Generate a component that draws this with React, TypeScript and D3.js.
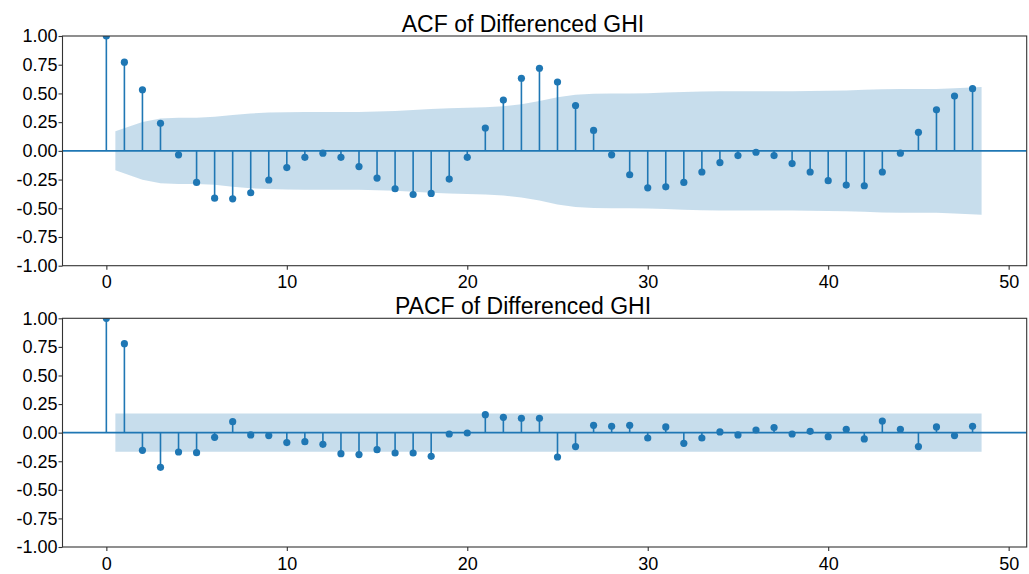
import React, { useEffect, useRef } from 'react'
import * as d3 from 'd3'

// autocorrelation at lags 0..48
const acfValues = [
  1.0, 0.772, 0.532, 0.24, -0.035, -0.275, -0.412, -0.418, -0.365, -0.254,
  -0.146, -0.056, -0.02, -0.056, -0.137, -0.237, -0.33, -0.38, -0.371, -0.246,
  -0.056, 0.199, 0.442, 0.632, 0.719, 0.599, 0.395, 0.178, -0.035, -0.208,
  -0.322, -0.313, -0.275, -0.184, -0.102, -0.041, -0.012, -0.041, -0.111, -0.184,
  -0.26, -0.298, -0.304, -0.184, -0.02, 0.161, 0.357, 0.477, 0.541
]

// half width of the confidence band, lags 1..48
const acfConf = [
  0.17, 0.252, 0.282, 0.288, 0.288, 0.296, 0.312, 0.326, 0.333, 0.337,
  0.339, 0.339, 0.339, 0.339, 0.342, 0.348, 0.356, 0.365, 0.372, 0.376,
  0.38, 0.388, 0.406, 0.433, 0.467, 0.488, 0.497, 0.499, 0.499, 0.502,
  0.507, 0.513, 0.517, 0.519, 0.52, 0.52, 0.52, 0.52, 0.521, 0.523,
  0.526, 0.531, 0.536, 0.538, 0.538, 0.539, 0.546, 0.556
]

// partial autocorrelation at lags 0..48
const pacfValues = [
  1.0, 0.778, -0.155, -0.303, -0.169, -0.175, -0.041, 0.096, -0.02, -0.026,
  -0.087, -0.079, -0.102, -0.184, -0.192, -0.149, -0.178, -0.178, -0.207, -0.012,
  -0.003, 0.157, 0.134, 0.125, 0.125, -0.213, -0.122, 0.064, 0.055, 0.064,
  -0.047, 0.05, -0.093, -0.047, 0.006, -0.02, 0.023, 0.044, -0.012, 0.012,
  -0.035, 0.029, -0.055, 0.102, 0.029, -0.122, 0.05, -0.026, 0.055
]
const pacfLimit = 0.168

const yTicks = [-1, -0.75, -0.5, -0.25, 0, 0.25, 0.5, 0.75, 1]
const xTicks = [0, 10, 20, 30, 40, 50]

const width = 1029
const height = 574
const left = 62.5
const right = 1026.7
const blue = '#1f77b4'
const font = '"Liberation Sans", Arial, sans-serif'

const x = d3.scaleLinear().domain([-2.43, 51.0]).range([left, right])

function drawPanel(svg, opts) {
  const { top, bottom, title, values, conf, id, titleY } = opts
  const y = d3.scaleLinear().domain([-1, 1]).range([bottom, top])
  const g = svg.append('g')

  g.append('clipPath').attr('id', id)
    .append('rect')
      .attr('x', left).attr('y', top)
      .attr('width', right - left).attr('height', bottom - top)

  const plot = g.append('g').attr('clip-path', `url(#${id})`)

  // confidence band, first and last point pushed out half a lag
  const n = conf.length
  const bandPts = conf.map((c, i) => ({
    lag: i === 0 ? 0.5 : i === n - 1 ? n + 0.5 : i + 1,
    c
  }))
  const area = d3.area()
    .x(d => x(d.lag))
    .y0(d => y(-d.c))
    .y1(d => y(d.c))
  plot.append('path')
    .datum(bandPts)
    .attr('d', area)
    .attr('fill', blue)
    .attr('fill-opacity', 0.25)

  // zero line
  plot.append('line')
    .attr('x1', left).attr('x2', right)
    .attr('y1', y(0)).attr('y2', y(0))
    .attr('stroke', blue).attr('stroke-width', 1.6)

  const pts = values.map((v, i) => ({ lag: i, v }))
  plot.selectAll('.stem')
    .data(pts).enter()
    .append('line')
      .attr('class', 'stem')
      .attr('x1', d => x(d.lag)).attr('x2', d => x(d.lag))
      .attr('y1', y(0)).attr('y2', d => y(d.v))
      .attr('stroke', blue).attr('stroke-width', 1.6)
  plot.selectAll('.dot')
    .data(pts).enter()
    .append('circle')
      .attr('class', 'dot')
      .attr('cx', d => x(d.lag))
      .attr('cy', d => y(d.v))
      .attr('r', 3.6)
      .attr('fill', blue)

  // axes
  const yAxis = d3.axisLeft(y)
    .tickValues(yTicks)
    .tickFormat(d => d.toFixed(2))
    .tickSize(4)
    .tickSizeOuter(0)
    .tickPadding(1)
  const xAxis = d3.axisBottom(x)
    .tickValues(xTicks)
    .tickFormat(d => String(d))
    .tickSize(4)
    .tickSizeOuter(0)
    .tickPadding(6)

  const ya = g.append('g').attr('transform', `translate(${left},0)`).call(yAxis)
  const xa = g.append('g').attr('transform', `translate(0,${bottom})`).call(xAxis)
  for (const a of [ya, xa]) {
    a.select('.domain').remove()
    a.selectAll('line').attr('stroke', '#333').attr('stroke-width', 1.1)
    a.selectAll('text')
      .attr('fill', '#000')
      .style('font-family', font)
      .style('font-size', '18px')
  }

  g.append('rect')
    .attr('x', left).attr('y', top)
    .attr('width', right - left).attr('height', bottom - top)
    .attr('fill', 'none')
    .attr('stroke', '#333')
    .attr('stroke-width', 1.1)

  g.append('text')
    .attr('x', 523)
    .attr('y', titleY)
    .attr('text-anchor', 'middle')
    .style('font-family', font)
    .style('font-size', '23px')
    .attr('fill', '#000')
    .text(title)
}

export default function App() {
  const ref = useRef(null)

  useEffect(() => {
    const svg = d3.select(ref.current)
    svg.selectAll('*').remove()
    svg.append('rect').attr('width', width).attr('height', height).attr('fill', '#fff')

    drawPanel(svg, {
      top: 36, bottom: 265.7, titleY: 32,
      title: 'ACF of Differenced GHI',
      values: acfValues, conf: acfConf, id: 'clip-acf'
    })
    drawPanel(svg, {
      top: 318.3, bottom: 547, titleY: 314,
      title: 'PACF of Differenced GHI',
      values: pacfValues, conf: acfConf.map(() => pacfLimit), id: 'clip-pacf'
    })
  }, [])

  return (
    <svg
      ref={ref}
      width={width}
      height={height}
      style={{ position: 'absolute', left: 0, top: 0 }}
    />
  )
}
